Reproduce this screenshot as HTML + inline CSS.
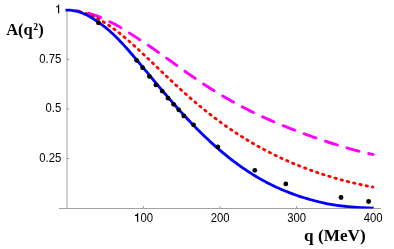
<!DOCTYPE html>
<html><head><meta charset="utf-8"><title>A(q^2)</title>
<style>
html,body{margin:0;padding:0;background:#fff;}
body{width:394px;height:249px;overflow:hidden;position:relative;font-family:"Liberation Sans",sans-serif;}
svg{position:absolute;left:0;top:0;display:block;will-change:transform;}
.t{font-family:"Liberation Sans",sans-serif;font-size:12.2px;fill:#000;}
.b{font-family:"Liberation Serif",serif;font-weight:bold;font-size:16.5px;fill:#000;}
</style></head><body>
<svg width="394" height="249" viewBox="0 0 394 249">
<defs><clipPath id="c"><rect x="60" y="0" width="334" height="208.4"/></clipPath><clipPath id="c2"><rect x="75.5" y="0" width="320" height="208.4"/></clipPath></defs>
<rect width="394" height="249" fill="#fff"/>
<g stroke="#a0a0a0" stroke-width="1" fill="none">
<line x1="67" y1="10" x2="67" y2="209"/>
<line x1="59" y1="208.5" x2="381" y2="208.5"/>
<line x1="67" y1="10" x2="69.3" y2="10"/><line x1="67" y1="59.5" x2="69.3" y2="59.5"/><line x1="67" y1="109" x2="69.3" y2="109"/><line x1="67" y1="158.5" x2="69.3" y2="158.5"/><line x1="143.5" y1="208.5" x2="143.5" y2="206"/><line x1="220" y1="208.5" x2="220" y2="206"/><line x1="296.5" y1="208.5" x2="296.5" y2="206"/><line x1="373" y1="208.5" x2="373" y2="206"/>
</g>
<text class="t" text-anchor="end" transform="translate(61.3,62.7) scale(0.93,1)">0.75</text><text class="t" text-anchor="end" transform="translate(61.3,112.2) scale(0.93,1)">0.5</text><text class="t" text-anchor="end" transform="translate(61.3,161.7) scale(0.93,1)">0.25</text><path d="M0,0 L-1.2,0 L-1.2,-5.85 L-3.15,-5.85 L-3.15,-6.7 C-2.0,-6.75 -1.1,-7.25 -0.85,-8.7 L0,-8.7 Z" transform="translate(59.2,13.2)"/>
<text class="t" text-anchor="middle" transform="translate(220.2,221.8) scale(0.93,1)">200</text><text class="t" text-anchor="middle" transform="translate(296.7,221.8) scale(0.93,1)">300</text><text class="t" text-anchor="middle" transform="translate(373.2,221.8) scale(0.93,1)">400</text><text class="t" text-anchor="end" transform="translate(153.16,221.8) scale(0.93,1)">00</text><path d="M0,0 L-1.2,0 L-1.2,-5.85 L-3.15,-5.85 L-3.15,-6.7 C-2.0,-6.75 -1.1,-7.25 -0.85,-8.7 L0,-8.7 Z" transform="translate(138.2,221.75)"/>
<text class="b" x="6.2" y="34.6">A(q<tspan font-size="9.6px" dx="0.5" dy="-4.3">2</tspan><tspan dy="4.3" dx="0.2">)</tspan></text>
<text class="b" transform="translate(304.1,240.9) scale(1.042,1)">q (MeV)</text>
<g fill="none" stroke-width="2.8" clip-path="url(#c)">
<g clip-path="url(#c2)">
<path d="M67.00,10.15 L68.53,10.17 L70.06,10.22 L71.59,10.30 L73.12,10.40 L74.65,10.54 L76.18,10.71 L77.71,10.91 L79.24,11.14 L80.77,11.39 L82.30,11.68 L83.83,11.99 L85.36,12.34 L86.89,12.71 L88.42,13.12 L89.95,13.56 L91.48,14.04 L93.01,14.54 L94.54,15.07 L96.07,15.62 L97.60,16.20 L99.13,16.81 L100.66,17.43 L102.19,18.08 L103.72,18.75 L105.25,19.44 L106.78,20.16 L108.31,20.90 L109.84,21.66 L111.37,22.44 L112.90,23.23 L114.43,24.05 L115.96,24.89 L117.49,25.74 L119.02,26.61 L120.55,27.50 L122.08,28.40 L123.61,29.32 L125.14,30.25 L126.67,31.20 L128.20,32.16 L129.73,33.13 L131.26,34.11 L132.79,35.11 L134.32,36.12 L135.85,37.13 L137.38,38.16 L138.91,39.19 L140.44,40.23 L141.97,41.26 L143.50,42.27 L145.03,43.25 L146.56,44.22 L148.09,45.21 L149.62,46.22 L151.15,47.26 L152.68,48.31 L154.21,49.37 L155.74,50.43 L157.27,51.49 L158.80,52.57 L160.33,53.65 L161.86,54.74 L163.39,55.83 L164.92,56.93 L166.45,58.03 L167.98,59.13 L169.51,60.24 L171.04,61.34 L172.57,62.44 L174.10,63.54 L175.63,64.64 L177.16,65.74 L178.69,66.83 L180.22,67.92 L181.75,69.01 L183.28,70.09 L184.81,71.17 L186.34,72.25 L187.87,73.32 L189.40,74.38 L190.93,75.45 L192.46,76.50 L193.99,77.55 L195.52,78.60 L197.05,79.63 L198.58,80.67 L200.11,81.69 L201.64,82.71 L203.17,83.72 L204.70,84.73 L206.23,85.73 L207.76,86.72 L209.29,87.70 L210.82,88.67 L212.35,89.64 L213.88,90.60 L215.41,91.55 L216.94,92.49 L218.47,93.43 L220.00,94.35 L221.53,95.27 L223.06,96.18 L224.59,97.08 L226.12,97.97 L227.65,98.85 L229.18,99.73 L230.71,100.59 L232.24,101.45 L233.77,102.30 L235.30,103.14 L236.83,103.98 L238.36,104.80 L239.89,105.62 L241.42,106.42 L242.95,107.22 L244.48,108.01 L246.01,108.80 L247.54,109.57 L249.07,110.34 L250.60,111.10 L252.13,111.85 L253.66,112.59 L255.19,113.33 L256.72,114.06 L258.25,114.78 L259.78,115.49 L261.31,116.20 L262.84,116.90 L264.37,117.60 L265.90,118.28 L267.43,118.96 L268.96,119.64 L270.49,120.31 L272.02,120.97 L273.55,121.63 L275.08,122.28 L276.61,122.93 L278.14,123.57 L279.67,124.21 L281.20,124.84 L282.73,125.46 L284.26,126.08 L285.79,126.70 L287.32,127.31 L288.85,127.92 L290.38,128.52 L291.91,129.11 L293.44,129.71 L294.97,130.30 L296.50,130.88 L298.03,131.46 L299.56,132.04 L301.09,132.61 L302.62,133.18 L304.15,133.74 L305.68,134.30 L307.21,134.86 L308.74,135.41 L310.27,135.96 L311.80,136.50 L313.33,137.04 L314.86,137.58 L316.39,138.12 L317.92,138.65 L319.45,139.17 L320.98,139.70 L322.51,140.22 L324.04,140.73 L325.57,141.24 L327.10,141.75 L328.63,142.26 L330.16,142.75 L331.69,143.25 L333.22,143.74 L334.75,144.23 L336.28,144.71 L337.81,145.19 L339.34,145.66 L340.87,146.13 L342.40,146.60 L343.93,147.06 L345.46,147.51 L346.99,147.96 L348.52,148.40 L350.05,148.84 L351.58,149.27 L353.11,149.69 L354.64,150.11 L356.17,150.51 L357.70,150.92 L359.23,151.31 L360.76,151.70 L362.29,152.07 L363.82,152.44 L365.35,152.80 L366.88,153.15 L368.41,153.48 L369.94,153.81 L371.47,154.13 L373.00,154.43" stroke="#ff00ff" stroke-width="2.9" stroke-linecap="round" stroke-dasharray="12.500 10.010" stroke-dashoffset="0.190"/>
<path d="M67.00,10.27 L68.53,10.29 L70.06,10.35 L71.59,10.45 L73.12,10.60 L74.65,10.79 L76.18,11.03 L77.71,11.30 L79.24,11.62 L80.77,11.98 L82.30,12.38 L83.83,12.83 L85.36,13.31 L86.89,13.83 L88.42,14.39 L89.95,14.99 L91.48,15.63 L93.01,16.31 L94.54,17.02 L96.07,17.77 L97.60,18.56 L99.13,19.38 L100.66,20.23 L102.19,21.12 L103.72,22.04 L105.25,22.99 L106.78,23.97 L108.31,24.98 L109.84,26.02 L111.37,27.09 L112.90,28.19 L114.43,29.31 L115.96,30.45 L117.49,31.63 L119.02,32.82 L120.55,34.04 L122.08,35.28 L123.61,36.54 L125.14,37.82 L126.67,39.11 L128.20,40.43 L129.73,41.76 L131.26,43.11 L132.79,44.47 L134.32,45.84 L135.85,47.23 L137.38,48.63 L138.91,50.04 L140.44,51.46 L141.97,52.88 L143.50,54.32 L145.03,55.76 L146.56,57.21 L148.09,58.67 L149.62,60.12 L151.15,61.59 L152.68,63.05 L154.21,64.52 L155.74,65.98 L157.27,67.45 L158.80,68.92 L160.33,70.38 L161.86,71.84 L163.39,73.30 L164.92,74.76 L166.45,76.22 L167.98,77.66 L169.51,79.11 L171.04,80.55 L172.57,81.98 L174.10,83.41 L175.63,84.83 L177.16,86.24 L178.69,87.65 L180.22,89.04 L181.75,90.43 L183.28,91.81 L184.81,93.18 L186.34,94.54 L187.87,95.90 L189.40,97.24 L190.93,98.57 L192.46,99.90 L193.99,101.21 L195.52,102.51 L197.05,103.80 L198.58,105.09 L200.11,106.36 L201.64,107.62 L203.17,108.86 L204.70,110.10 L206.23,111.33 L207.76,112.54 L209.29,113.75 L210.82,114.94 L212.35,116.12 L213.88,117.29 L215.41,118.45 L216.94,119.60 L218.47,120.73 L220.00,121.86 L221.53,122.97 L223.06,124.08 L224.59,125.17 L226.12,126.25 L227.65,127.32 L229.18,128.37 L230.71,129.42 L232.24,130.46 L233.77,131.48 L235.30,132.49 L236.83,133.50 L238.36,134.49 L239.89,135.47 L241.42,136.44 L242.95,137.40 L244.48,138.34 L246.01,139.28 L247.54,140.21 L249.07,141.13 L250.60,142.03 L252.13,142.93 L253.66,143.81 L255.19,144.69 L256.72,145.55 L258.25,146.41 L259.78,147.25 L261.31,148.09 L262.84,148.91 L264.37,149.73 L265.90,150.53 L267.43,151.33 L268.96,152.11 L270.49,152.89 L272.02,153.66 L273.55,154.42 L275.08,155.16 L276.61,155.90 L278.14,156.63 L279.67,157.36 L281.20,158.07 L282.73,158.77 L284.26,159.47 L285.79,160.15 L287.32,160.83 L288.85,161.50 L290.38,162.16 L291.91,162.82 L293.44,163.46 L294.97,164.10 L296.50,164.72 L298.03,165.34 L299.56,165.96 L301.09,166.56 L302.62,167.16 L304.15,167.75 L305.68,168.33 L307.21,168.90 L308.74,169.47 L310.27,170.03 L311.80,170.58 L313.33,171.13 L314.86,171.66 L316.39,172.19 L317.92,172.72 L319.45,173.23 L320.98,173.74 L322.51,174.24 L324.04,174.74 L325.57,175.23 L327.10,175.71 L328.63,176.19 L330.16,176.65 L331.69,177.12 L333.22,177.57 L334.75,178.02 L336.28,178.46 L337.81,178.90 L339.34,179.33 L340.87,179.75 L342.40,180.16 L343.93,180.57 L345.46,180.98 L346.99,181.37 L348.52,181.76 L350.05,182.14 L351.58,182.52 L353.11,182.89 L354.64,183.26 L356.17,183.61 L357.70,183.96 L359.23,184.31 L360.76,184.64 L362.29,184.97 L363.82,185.30 L365.35,185.62 L366.88,185.93 L368.41,186.23 L369.94,186.52 L371.47,186.81 L373.00,187.10" stroke="#ff0000" stroke-width="2.8" stroke-linecap="round" stroke-dasharray="1.4 5.025" stroke-dashoffset="0.080"/>
</g>
<path d="M65.47,10.08 L66.99,10.05 L68.52,10.07 L70.04,10.16 L71.57,10.31 L73.09,10.52 L74.62,10.79 L76.14,11.12 L77.67,11.52 L79.19,11.97 L80.72,12.48 L82.24,13.05 L83.77,13.67 L85.29,14.35 L86.82,15.09 L88.34,15.88 L89.87,16.73 L91.39,17.62 L92.91,18.56 L94.44,19.53 L95.96,20.56 L97.49,21.62 L99.01,22.71 L100.54,23.80 L102.06,24.90 L103.59,26.03 L105.11,27.19 L106.64,28.41 L108.16,29.70 L109.69,31.05 L111.21,32.43 L112.74,33.84 L114.26,35.29 L115.79,36.77 L117.31,38.28 L118.83,39.83 L120.36,41.40 L121.88,43.01 L123.41,44.65 L124.93,46.32 L126.46,48.02 L127.98,49.75 L129.51,51.49 L131.03,53.25 L132.56,55.02 L134.08,56.81 L135.61,58.61 L137.13,60.42 L138.66,62.23 L140.18,64.06 L141.70,65.89 L143.23,67.72 L144.75,69.56 L146.28,71.40 L147.80,73.23 L149.33,75.07 L150.85,76.90 L152.38,78.74 L153.90,80.57 L155.43,82.39 L156.95,84.22 L158.48,86.03 L160.00,87.85 L161.53,89.65 L163.05,91.45 L164.58,93.25 L166.10,95.03 L167.62,96.81 L169.15,98.57 L170.67,100.33 L172.20,102.08 L173.72,103.82 L175.25,105.54 L176.77,107.26 L178.30,108.96 L179.82,110.65 L181.35,112.33 L182.87,114.00 L184.40,115.65 L185.92,117.29 L187.45,118.92 L188.97,120.54 L190.50,122.14 L192.02,123.73 L193.54,125.30 L195.07,126.86 L196.59,128.41 L198.12,129.94 L199.64,131.46 L201.17,132.97 L202.69,134.46 L204.22,135.94 L205.74,137.40 L207.27,138.85 L208.79,140.28 L210.32,141.70 L211.84,143.10 L213.37,144.49 L214.89,145.85 L216.42,147.20 L217.94,148.54 L219.46,149.85 L220.99,151.15 L222.51,152.43 L224.04,153.70 L225.56,154.95 L227.09,156.18 L228.61,157.40 L230.14,158.60 L231.66,159.78 L233.19,160.95 L234.71,162.10 L236.24,163.23 L237.76,164.35 L239.29,165.45 L240.81,166.54 L242.33,167.61 L243.86,168.66 L245.38,169.69 L246.91,170.71 L248.43,171.71 L249.96,172.69 L251.48,173.66 L253.01,174.61 L254.53,175.54 L256.06,176.46 L257.58,177.36 L259.11,178.24 L260.63,179.11 L262.16,179.96 L263.68,180.80 L265.21,181.62 L266.73,182.43 L268.25,183.22 L269.78,183.99 L271.30,184.76 L272.83,185.50 L274.35,186.23 L275.88,186.95 L277.40,187.65 L278.93,188.34 L280.45,189.01 L281.98,189.67 L283.50,190.32 L285.03,190.95 L286.55,191.57 L288.08,192.17 L289.60,192.77 L291.13,193.34 L292.65,193.91 L294.17,194.46 L295.70,195.00 L297.22,195.53 L298.75,196.05 L300.27,196.55 L301.80,197.05 L303.32,197.53 L304.85,198.00 L306.37,198.46 L307.90,198.91 L309.42,199.34 L310.95,199.77 L312.47,200.19 L314.00,200.60 L315.52,200.99 L317.05,201.38 L318.57,201.76 L320.09,202.13 L321.62,202.49 L323.14,202.84 L324.67,203.18 L326.19,203.51 L327.72,203.83 L329.24,204.14 L330.77,204.44 L332.29,204.71 L333.82,204.95 L335.34,205.17 L336.87,205.38 L338.39,205.57 L339.92,205.76 L341.44,205.95 L342.97,206.11 L344.49,206.26 L346.01,206.41 L347.54,206.55 L349.06,206.70 L350.59,206.86 L352.11,207.01 L353.64,207.15 L355.16,207.27 L356.69,207.38 L358.21,207.47 L359.74,207.54 L361.26,207.61 L362.79,207.69 L364.31,207.77 L365.84,207.85 L367.36,207.93 L368.88,208.00 L370.41,208.05 L371.93,208.18 L373.46,208.24" stroke="#0000ff"/>
</g>
<g fill="#000"><circle cx="98.5" cy="22.9" r="2.4"/><circle cx="136.6" cy="60.3" r="2.4"/><circle cx="142.6" cy="67.7" r="2.4"/><circle cx="149.4" cy="76.4" r="2.4"/><circle cx="155.9" cy="84.9" r="2.4"/><circle cx="162.1" cy="91.1" r="2.4"/><circle cx="168.1" cy="98.2" r="2.4"/><circle cx="173.6" cy="104.3" r="2.4"/><circle cx="178.7" cy="109.8" r="2.4"/><circle cx="183.8" cy="115.9" r="2.4"/><circle cx="193.5" cy="124.8" r="2.4"/><circle cx="217.8" cy="146.8" r="2.4"/><circle cx="254.8" cy="170.3" r="2.4"/><circle cx="285.8" cy="183.9" r="2.4"/><circle cx="341" cy="197.5" r="2.4"/><circle cx="368.6" cy="201.5" r="2.4"/></g>
</svg>
</body></html>
